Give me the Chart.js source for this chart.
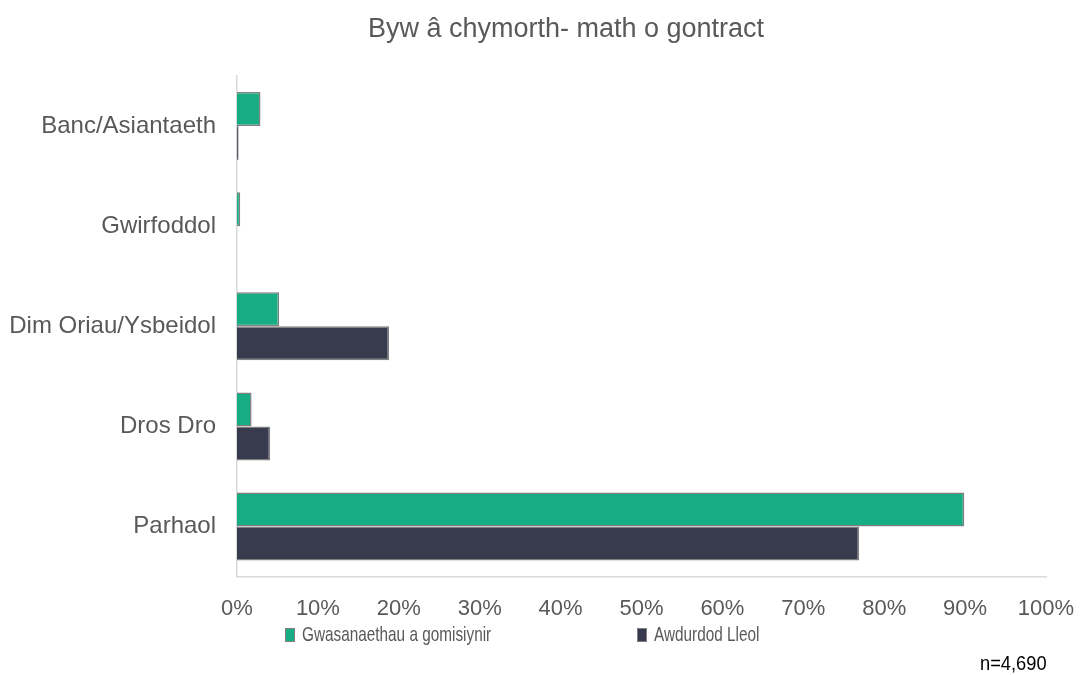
<!DOCTYPE html>
<html><head><meta charset="utf-8">
<script src="https://cdn.jsdelivr.net/npm/chart.js@4/dist/chart.umd.min.js"></script>
<style>
html,body{margin:0;padding:0;background:#fff;}
#wrap{position:relative;width:1083px;height:675px;}
#title{position:absolute;left:0;width:1132px;top:12px;text-align:center;font:27px "Liberation Sans",Arial,sans-serif;color:#595959;line-height:32px;white-space:nowrap;}
#note{position:absolute;left:980px;top:651px;font:21px "Liberation Sans",Arial,sans-serif;color:#000;line-height:24px;white-space:nowrap;transform:scaleX(0.87);transform-origin:left center;}
.lg{position:absolute;top:622px;height:24px;font:21px "Liberation Sans",Arial,sans-serif;color:#595959;line-height:24px;white-space:nowrap;}
.lg .box{position:absolute;left:0;top:6px;width:8px;height:12px;border:1px solid #7f7f7f;}
.lg .txt{position:absolute;left:17px;top:0;transform:scaleX(0.73);transform-origin:left center;}
</style></head>
<body>
<div id="wrap"><canvas id="c" width="1083" height="675"></canvas>
<div id="title">Byw â chymorth- math o gontract</div>
<div id="note">n=4,690</div></div>
<script>
const categories = ["Banc/Asiantaeth","Gwirfoddol","Dim Oriau/Ysbeidol","Dros Dro","Parhaol"];
const seriesNames = ["Gwasanaethau a gomisiynir","Awdurdod Lleol"];
const seriesColors = ["#17ad84","#383b4e"];
const commissioned = [2.9, 0.4, 5.2, 1.8, 89.9];
const localAuthority = [0.2, 0.0, 18.8, 4.1, 76.9];
const xTicks = [0,10,20,30,40,50,60,70,80,90,100];

const font = '"Liberation Sans", Arial, sans-serif';
new Chart(document.getElementById('c'), {
  type: 'bar',
  data: {
    labels: categories,
    datasets: [
      {label: seriesNames[0], data: commissioned, backgroundColor: seriesColors[0], borderColor: '#7f7f7f', borderWidth: 1.5, categoryPercentage: 0.68, barPercentage: 1},
      {label: seriesNames[1], data: localAuthority, backgroundColor: seriesColors[1], borderColor: '#7f7f7f', borderWidth: 1.5, categoryPercentage: 0.68, barPercentage: 1}
    ]
  },
  options: {
    indexAxis: 'y',
    responsive: false,
    animation: false,
    layout: {padding: {left: 0, right: 37, top: 76, bottom: 34}},
    plugins: {
      title: {display: false},
      legend: {display: false},
      tooltip: {enabled: false}
    },
    scales: {
      x: {
        min: 0, max: 100,
        afterBuildTicks: s => { s.ticks = xTicks.map(v => ({value: v})); },
        afterFit: s => { s.paddingRight = 37; },
        ticks: {color: '#595959', font: {family: font, size: 22}, padding: 19, callback: v => v + '%'},
        grid: {display: false, drawTicks: false},
        border: {display: true, color: '#d9d9d9', width: 1.5}
      },
      y: {
        afterFit: s => { s.width = 237; },
        ticks: {color: '#595959', font: {family: font, size: 24}, padding: 21},
        grid: {display: false, drawTicks: false},
        border: {display: true, color: '#d9d9d9', width: 1.5}
      }
    }
  }
});
// HTML legend built from the series arrays
const legendX = [285, 637];
const wrap = document.getElementById('wrap');
seriesNames.forEach((name, i) => {
  const d = document.createElement('div');
  d.className = 'lg';
  d.style.left = legendX[i] + 'px';
  const b = document.createElement('span'); b.className = 'box'; b.style.background = seriesColors[i];
  const t = document.createElement('span'); t.className = 'txt'; t.textContent = name;
  d.appendChild(b); d.appendChild(t); wrap.appendChild(d);
});
</script>
</body></html>
